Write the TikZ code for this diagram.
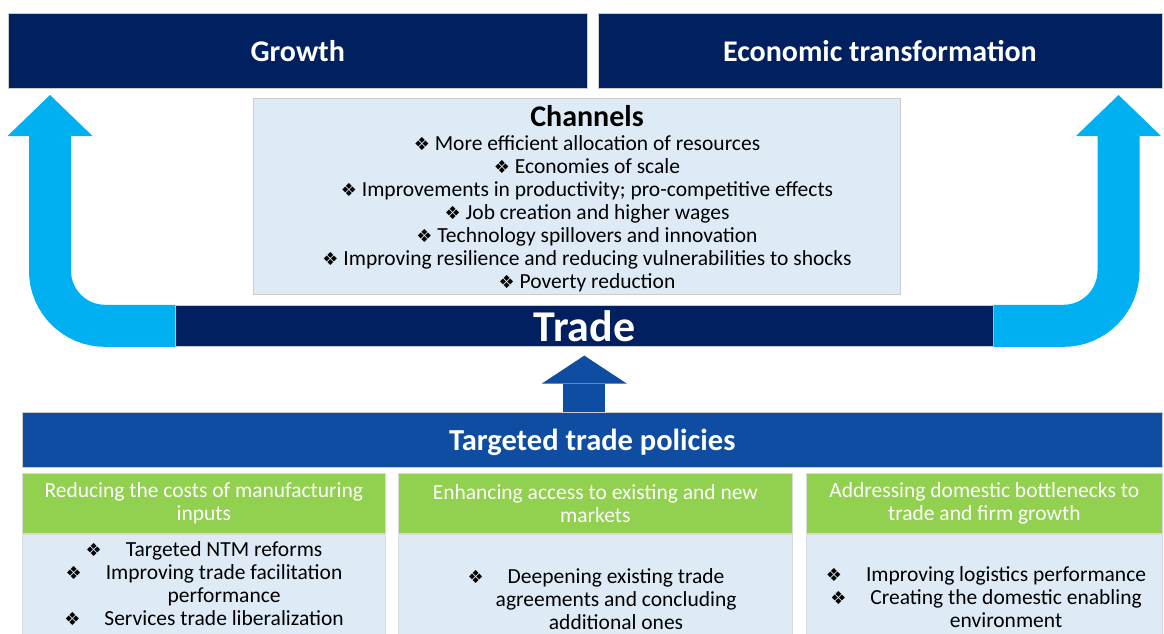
\documentclass[tikz,border=0pt]{standalone}
\usepackage{fontspec}
\setmainfont{Carlito}
\newfontfamily\bulfont{DejaVu Sans}
\usepackage{tikz}
\usetikzlibrary{arrows.meta,positioning,calc}
\definecolor{cNavy}{HTML}{002060}
\definecolor{cSky}{HTML}{00B0F0}
\definecolor{cRoyal}{HTML}{0E4DA1}
\definecolor{cPale}{HTML}{DEEBF7}
\definecolor{cLeaf}{HTML}{92D050}
\newcommand{\chbul}{{\bulfont\fontsize{18}{18}\selectfont ❖}}
\newcommand{\tabbul}{\chbul\hspace{24pt}}
\tikzset{
  bar/.style={fill=#1, draw=gray!40, line width=0.6pt, text=white, inner sep=0pt,
              anchor=north west, text depth=0pt},
  head/.style={fill=cLeaf, draw=gray!30, line width=0.6pt, text=white, inner sep=0pt,
               anchor=north west, font=\fontsize{21.5}{23}\selectfont, align=center,
               minimum height=60pt},
  body/.style={fill=cPale, draw=gray!30, line width=0.6pt, inner sep=0pt, minimum height=110pt},
  txt/.style={font=\fontsize{21.5}{23}\selectfont, align=center, inner sep=0pt},
  bigarr/.style={draw=#1, line width=42pt,
                 -{Triangle[length=41pt,width=85pt,line width=0pt]}},
}

\begin{document}
\begin{tikzpicture}[x=1pt,y=-1pt,font=\fontsize{21.5}{23}\selectfont]
  \useasboundingbox (0,0) rectangle (1164,633);
  % outcomes
  \node[bar=cNavy, minimum width=579pt, minimum height=75pt,
        font=\fontsize{30}{32}\selectfont\bfseries] (grow) at (8,13) {Growth};
  \node[bar=cNavy, minimum width=564pt, minimum height=75pt,
        font=\fontsize{30}{32}\selectfont\bfseries, right=10pt of grow] (econ) {Economic transformation};
  % channels
  \node[fill=cPale, draw=gray!40, line width=0.6pt, inner sep=0pt, anchor=north west,
        minimum width=647pt, minimum height=196pt] (chan) at (253,98) {};
  \node[font=\fontsize{30}{32}\selectfont\bfseries, inner sep=0pt, text depth=0pt] (chant) at (587,116) {Channels};
  \node[txt] (chanl) at (587,214) {\chbul\ More efficient allocation of resources\\
    \chbul\ Economies of scale\\
    \chbul\ Improvements in productivity; pro-competitive effects\\
    \chbul\ Job creation and higher wages\\
    \chbul\ Technology spillovers and innovation\\
    \chbul\ Improving resilience and reducing vulnerabilities to shocks\\
    \chbul\ Poverty reduction};
  % trade
  \node[bar=cNavy, minimum width=818pt, minimum height=41pt,
        font=\fontsize{44}{46}\selectfont\bfseries] (trade) at (175,305) {Trade};
  \coordinate (lt) at (50,88);
  \coordinate (rt) at (1118.5,88);
  \draw[bigarr=cSky, rounded corners=55pt, shorten >=7pt] (trade.west) -| (lt);
  \draw[bigarr=cSky, rounded corners=55pt, shorten >=7pt] (trade.east) -| (rt);
  % policies
  \node[bar=cRoyal, minimum width=1140pt, minimum height=55pt,
        font=\fontsize{30.5}{32}\selectfont\bfseries] (pol) at (22,412) {Targeted trade policies};
  \draw[bigarr=cRoyal, -{Triangle[length=28pt,width=85pt,line width=0pt]}, shorten >=9pt]
    (pol.north -| trade.south) -- (trade.south);
  % policy areas
  \node[head, minimum width=363pt] (h1) at (22,473) {Reducing the costs of manufacturing\\inputs};
  \node[head, minimum width=394pt] (h2) at (398,473) {Enhancing access to existing and new\\markets};
  \node[head, minimum width=356pt] (h3) at (806,473) {Addressing domestic bottlenecks to\\trade and firm growth};
  \node[body, below=0pt of h1, minimum width=363pt] (b1) {};
  \node[body, below=0pt of h2, minimum width=394pt] (b2) {};
  \node[body, below=0pt of h3, minimum width=356pt] (b3) {};
  \node[txt] (l1) at (204,583.5) {\tabbul Targeted NTM reforms\\
    \tabbul Improving trade facilitation\\
    \phantom{\tabbul}performance\\
    \tabbul Services trade liberalization};
  \node[txt] (l2) at (596,599) {\tabbul Deepening existing trade\\
    \phantom{\tabbul}agreements and concluding\\
    \phantom{\tabbul}additional ones};
  \node[txt] (l3) at (986,597) {\tabbul Improving logistics performance\\
    \tabbul Creating the domestic enabling\\
    \phantom{\tabbul}environment};
\end{tikzpicture}
\end{document}
